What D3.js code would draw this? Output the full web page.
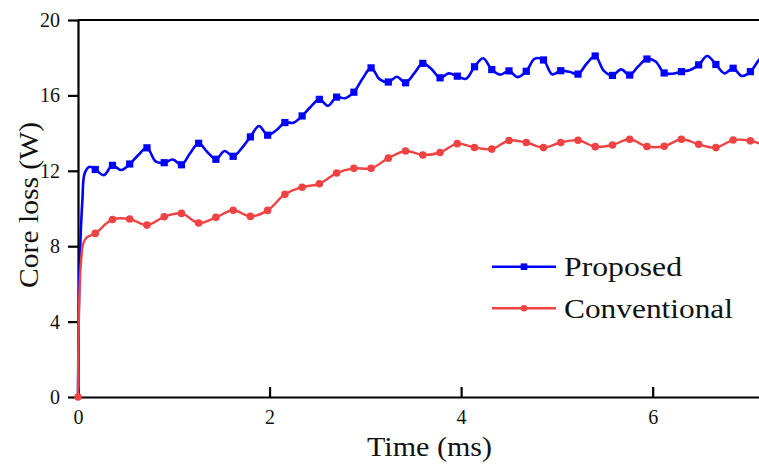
<!DOCTYPE html>
<html>
<head>
<meta charset="utf-8">
<script src="https://cdn.jsdelivr.net/npm/d3@7"></script>
<style>
  html, body { margin: 0; padding: 0; background: #fff; }
  svg { display: block; }
  .axis text { font-family: "Liberation Serif", "Times New Roman", serif; font-size: 20px; fill: #111; }
  .axis path, .axis line { stroke: #000; stroke-width: 2.2px; }
  .title { font-family: "Liberation Serif", "Times New Roman", serif; font-size: 28px; fill: #111; }
</style>
</head>
<body>
<svg class="main"></svg>
<script>
var width = 759,
    height = 464,
    left = 78,
    top_ = 20,
    bottom = 397,
    xMax = 7.11, // right edge of the picture (ms)
    blueColor = '#0000ff',
    redColor = '#ef4343',
    tickLen = 10;

// Proposed: start-up points, then one value every 0.09 ms from 0.18 ms (marker on every 2nd)
var blueHeadTime = [0, 0.018, 0.046, 0.07, 0.122];
var blueHeadLoss = [0, 7.1, 10.45, 11.87, 12.21];
var blueStart = 0.18,
    blueStep = 0.09;
var blueLoss = [
    12.07, 11.77, 12.29, 12.04, 12.36, 12.84, 13.22, 12.5, 12.43, 12.6,
    12.32, 12.93, 13.46, 13.0, 12.61, 13.05, 12.77, 13.2, 13.8, 14.38,
    13.89, 14.15, 14.56, 14.55, 14.91, 15.4, 15.79, 15.45, 15.91, 15.85,
    16.17, 16.88, 17.46, 16.85, 16.71, 16.99, 16.67, 17.17, 17.7, 17.4,
    16.93, 17.17, 17.02, 16.88, 17.52, 17.97, 17.37, 17.1, 17.3, 16.97,
    17.28, 17.95, 17.88, 17.12, 17.31, 17.25, 17.13, 17.68, 18.09, 17.3,
    17.06, 17.38, 17.08, 17.55, 17.93, 17.8, 17.19, 17.15, 17.26, 17.35,
    17.62, 18.09, 17.64, 17.17, 17.44, 17.03, 17.26, 17.88, 18.3
];

// Conventional: start-up points, then one value every 0.18 ms (all marked)
var redHeadTime = [0, 0.012, 0.035, 0.055, 0.09];
var redHeadLoss = [0, 5.0, 7.4, 8.15, 8.45];
var redStart = 0.18,
    redStep = 0.18;
var redLoss = [
    8.68, 9.42, 9.44, 9.12, 9.56, 9.74, 9.23, 9.53, 9.91, 9.58,
    9.9, 10.75, 11.13, 11.31, 11.88, 12.13, 12.13, 12.67, 13.05, 12.84,
    12.97, 13.44, 13.24, 13.15, 13.61, 13.5, 13.23, 13.5, 13.62, 13.28,
    13.37, 13.67, 13.29, 13.3, 13.67, 13.41, 13.23, 13.63, 13.59, 13.3
];

var xTicks = [0, 2, 4, 6],
    yTicks = [0, 4, 8, 12, 16, 20],
    seriesNames = ['Proposed', 'Conventional'];

function buildSeries(headT, headV, start, step, vals, markEvery) {
    var pts = headT.map(function(t, i) {
        return { t: t, v: headV[i], mark: i == 0 };
    });
    vals.forEach(function(v, i) {
        pts.push({ t: start + i * step, v: v, mark: i % markEvery == 0 });
    });
    return pts;
}

var blue = buildSeries(blueHeadTime, blueHeadLoss, blueStart, blueStep, blueLoss, 2);
var red = buildSeries(redHeadTime, redHeadLoss, redStart, redStep, redLoss, 1);

var svg = d3.select('.main')
    .attr('width', width)
    .attr('height', height);

var x = d3.scaleLinear().domain([0, xMax]).range([left, width]);
var y = d3.scaleLinear().domain([0, 20]).range([bottom, top_]);

// axes
var yAxis = d3.axisLeft(y)
    .tickValues(yTicks)
    .tickSizeInner(tickLen)
    .tickSizeOuter(0)
    .tickPadding(8)
    .tickFormat(d3.format('d'));

var xAxis = d3.axisBottom(x)
    .tickValues(xTicks)
    .tickSizeInner(-tickLen)
    .tickSizeOuter(0)
    .tickPadding(13)
    .tickFormat(d3.format('d'));

svg.append('g')
    .attr('class', 'axis')
    .attr('transform', `translate(0,${bottom})`)
    .call(xAxis);

svg.append('g')
    .attr('class', 'axis')
    .attr('transform', `translate(${left},0)`)
    .call(yAxis);

// top frame line
svg.append('line')
    .attr('x1', left).attr('x2', width)
    .attr('y1', top_).attr('y2', top_)
    .attr('stroke', '#000')
    .attr('stroke-width', 2.2);

svg.append('clipPath').attr('id', 'plot')
    .append('rect')
    .attr('x', left - 6).attr('y', top_ - 5)
    .attr('width', width - left + 6).attr('height', bottom - top_ + 10);

var line = d3.line()
    .x(function(d) { return x(d.t); })
    .y(function(d) { return y(d.v); })
    .curve(d3.curveCatmullRom.alpha(0.5));

var plot = svg.append('g').attr('clip-path', 'url(#plot)');

// blue series
plot.append('path')
    .datum(blue)
    .attr('d', line)
    .attr('fill', 'none')
    .attr('stroke', blueColor)
    .attr('stroke-width', 2.6);

plot.selectAll('.sq')
    .data(blue.filter(function(d) { return d.mark && d.t > 0; }))
    .enter().append('rect')
    .attr('class', 'sq')
    .attr('x', function(d) { return x(d.t) - 3.6; })
    .attr('y', function(d) { return y(d.v) - 3.6; })
    .attr('width', 7.2)
    .attr('height', 7.2)
    .attr('fill', blueColor);

// red series
plot.append('path')
    .datum(red)
    .attr('d', line)
    .attr('fill', 'none')
    .attr('stroke', redColor)
    .attr('stroke-width', 2.4);

plot.selectAll('.dot')
    .data(red.filter(function(d) { return d.mark; }))
    .enter().append('circle')
    .attr('class', 'dot')
    .attr('cx', function(d) { return x(d.t); })
    .attr('cy', function(d) { return y(d.v); })
    .attr('r', 3.8)
    .attr('fill', redColor);

// titles
svg.append('text')
    .attr('class', 'title')
    .attr('x', 429.5)
    .attr('y', 455.5)
    .attr('text-anchor', 'middle')
    .attr('textLength', 125)
    .attr('lengthAdjust', 'spacingAndGlyphs')
    .text('Time (ms)');

svg.append('text')
    .attr('class', 'title')
    .attr('transform', 'translate(38,205) rotate(-90)')
    .attr('text-anchor', 'middle')
    .attr('textLength', 166)
    .attr('lengthAdjust', 'spacingAndGlyphs')
    .text('Core loss (W)');

// legend
var legend = svg.append('g');
var legendRows = [
    { name: seriesNames[0], color: blueColor, y: 266.7, shape: 'sq', len: 118 },
    { name: seriesNames[1], color: redColor, y: 308.3, shape: 'dot', len: 169 }
];

legendRows.forEach(function(r) {
    legend.append('line')
        .attr('x1', 492).attr('x2', 556)
        .attr('y1', r.y).attr('y2', r.y)
        .attr('stroke', r.color)
        .attr('stroke-width', r.shape == 'sq' ? 2.6 : 2.4);
    if (r.shape == 'sq') {
        legend.append('rect')
            .attr('x', 524 - 3.3).attr('y', r.y - 3.3)
            .attr('width', 6.6).attr('height', 6.6)
            .attr('fill', r.color);
    } else {
        legend.append('circle')
            .attr('cx', 524).attr('cy', r.y)
            .attr('r', 3.3)
            .attr('fill', r.color);
    }
    legend.append('text')
        .attr('class', 'title')
        .attr('x', 564)
        .attr('y', r.y + 9.5)
        .attr('textLength', r.len)
        .attr('lengthAdjust', 'spacingAndGlyphs')
        .text(r.name);
});
</script>
</body>
</html>
